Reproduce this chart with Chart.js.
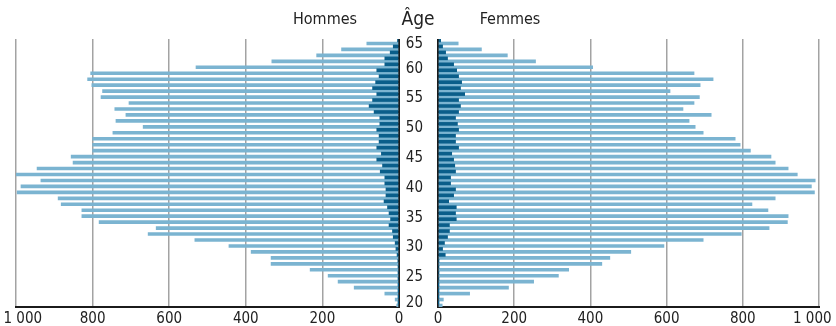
<!DOCTYPE html>
<html>
<head>
<meta charset="utf-8">
<script src="https://cdn.jsdelivr.net/npm/chart.js@4.4.1/dist/chart.umd.min.js"></script>
<style>
  body { margin:0; background:#fff; }
  #wrap { position:relative; width:836px; height:326px; overflow:hidden; }
  canvas { position:absolute; top:0; }
  .lbl { position:absolute; transform:translateX(-50%); color:#222; white-space:nowrap; line-height:1; }
</style>
</head>
<body>
<div id="wrap">
  <canvas id="hommes" width="403" height="331" style="left:0"></canvas>
  <canvas id="femmes" width="436" height="331" style="left:400px"></canvas>
  <div class="lbl" style="left:325px;top:11px;font-size:16px">Hommes</div>
  <div class="lbl" style="left:418px;top:9px;font-size:19px">Âge</div>
  <div class="lbl" style="left:510px;top:11px;font-size:16px">Femmes</div>
</div>
<script>
// ages, top to bottom
const ages = [64,63,62,61,60,59,58,57,56,55,54,53,52,51,50,49,48,47,46,45,44,43,42,
  41,40,39,38,37,36,35,34,33,32,31,30,29,28,27,26,25,24,23,22,21,20];

const hommesClair = [84,150,215,332,530,805,813,802,774,778,705,742,713,739,668,
  747,800,800,800,856,851,945,1008,935,987,997,890,882,828,828,783,634,655,533,444,
  386,334,334,232,185,159,117,37,10,6];
const hommesFonce = [4,15,23,37,37,58,52,61,69,58,69,78,65,50,50,
  58,52,52,58,46,58,43,49,37,37,34,34,39,30,26,22,26,17,15,10,
  8,5,3,2,2,2,1,1,1,1];

const femmesClair = [53,114,182,256,406,672,722,688,609,686,672,643,717,659,675,
  696,780,793,820,874,885,919,943,990,980,988,885,824,866,919,917,869,796,696,593,
  506,451,430,343,316,251,185,83,14,11];
const femmesFonce = [7,12,20,25,41,49,54,62,59,70,54,59,54,46,51,
  54,46,46,54,36,41,44,46,33,33,46,41,28,48,46,48,30,30,25,17,
  12,19,2,2,2,2,1,1,1,1];

const xTicks = [0,200,400,600,800,1000];
const ageTicks = [20,25,30,35,40,45,50,55,60,65];

// first condensed font that is really installed
function pickFont(list){
  const c = document.createElement('canvas').getContext('2d');
  const probe = 'Hommes Femmes 1 000';
  c.font = '40px monospace';
  const base = c.measureText(probe).width;
  for (const f of list){
    c.font = '40px "' + f + '", monospace';
    if (c.measureText(probe).width !== base) return '"' + f + '"';
  }
  return 'sans-serif';
}
const FONT = pickFont(['Liberation Sans Narrow','DejaVu Sans Condensed','Roboto Condensed','Arial Narrow','Roboto']) + ', sans-serif';
document.querySelectorAll('.lbl').forEach(el => el.style.fontFamily = FONT);

Chart.defaults.font.family = FONT;
Chart.defaults.font.size = 15;
Chart.defaults.color = '#222';

const CLAIR = '#7bb4d1', FONCE = '#0a5e8a';
const GRID = '#a3a3a3', AXE = '#1b1b1b';

// each age bar sits between its tick and the next one
function points(vals){
  return ages.map((a,i)=>({x: vals[i], y: a + 0.5}));
}

function sets(fonce, clair){
  return [
    {data: points(fonce), backgroundColor: FONCE, borderWidth:0, categoryPercentage:1, barPercentage:1},
    {data: points(clair), backgroundColor: CLAIR, borderWidth:0, categoryPercentage:1, barPercentage:1}
  ];
}

function xScale(left){
  return {
    type:'linear', min:0, max:1000, reverse: left,
    afterBuildTicks: s => { s.ticks = xTicks.map(v => ({value:v})); },
    // 1 000 label is pulled inside the plot, like the original
    afterFit: s => { if (left) s.paddingLeft = 0; else s.paddingRight = 0; },
    ticks:{ autoSkip:false, maxRotation:0, padding:3,
      callback: v => v === 1000 ? (left ? '\u20031 000' : '1 000\u2003') : String(v) },
    grid:{ drawTicks:false,
      color: c => c.tick && c.tick.value === 0 ? AXE : GRID,
      lineWidth: c => c.tick && c.tick.value === 0 ? 2 : 1.5 },
    border:{ color: AXE, width: 2 }
  };
}

// end labels 20 and 65 sit a little inside the plot in the original
const nudgeAges = {
  id:'nudgeAges',
  afterLayout(chart){
    const items = chart.scales.y.getLabelItems(chart.chartArea);
    if (!items.length) return;
    items[0].options.translation[1] -= 4;
    items[items.length - 1].options.translation[1] += 5;
  }
};

const common = {
  indexAxis:'y', responsive:false, animation:false,
  plugins:{ legend:{display:false}, tooltip:{enabled:false} }
};

new Chart(document.getElementById('hommes'), {
  type:'bar',
  data:{ datasets: sets(hommesFonce, hommesClair) },
  options: Object.assign({}, common, {
    layout:{ padding:{ top:39, left:16, right:4, bottom:0 } },
    scales:{
      x: xScale(true),
      y: { type:'linear', min:20, max:65, offset:false, display:false }
    }
  })
});

new Chart(document.getElementById('femmes'), {
  type:'bar',
  data:{ datasets: sets(femmesFonce, femmesClair) },
  options: Object.assign({}, common, {
    layout:{ padding:{ top:39, left:0, right:17, bottom:0 } },
    scales:{
      x: xScale(false),
      y: { type:'linear', min:20, max:65, offset:false,
        afterBuildTicks: s => { s.ticks = ageTicks.map(v => ({value:v})); },
        ticks:{ padding:15 },
        grid:{ display:false, drawTicks:false },
        border:{ display:false },
        afterFit: s => { s.width = 38; } }
    }
  }),
  plugins:[nudgeAges]
});
</script>
</body>
</html>
